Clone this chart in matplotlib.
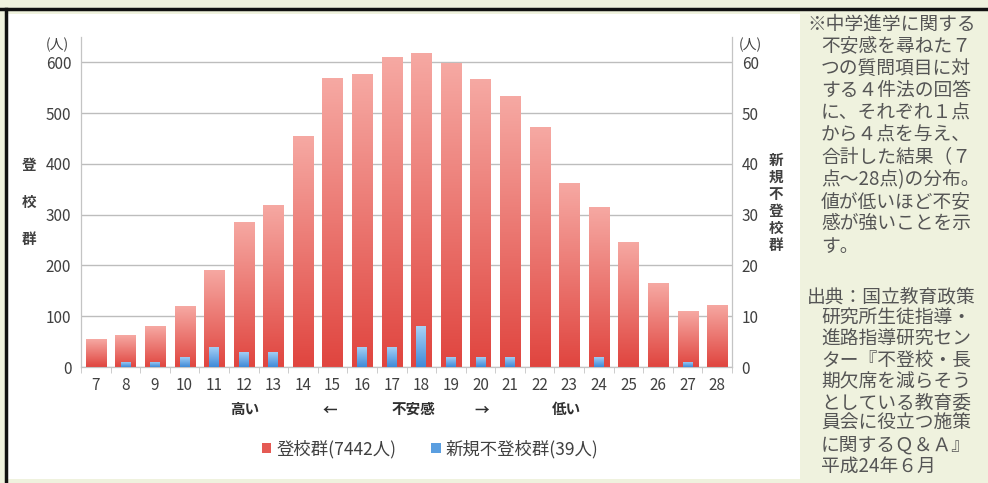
import numpy as np
import matplotlib
matplotlib.use('Agg')
import matplotlib.pyplot as plt
from matplotlib.colors import LinearSegmentedColormap
from matplotlib.patches import Rectangle
from matplotlib.lines import Line2D

plt.rcParams['font.family'] = ['Noto Sans CJK JP', 'DejaVu Sans']

# 合計点 7〜28 点
scores = list(range(7, 29))
# 登校群 (左軸, 人)
touko = [55, 63, 80, 120, 192, 286, 320, 455, 569, 577, 610, 619,
         598, 567, 533, 472, 363, 316, 247, 165, 110, 123]
# 新規不登校群 (右軸, 人)
shinki = [0, 1, 1, 2, 4, 3, 3, 0, 0, 4, 4, 8,
          2, 2, 2, 0, 0, 2, 0, 0, 1, 0]

label_touko = '登校群(7442人)'
label_shinki = '新規不登校群(39人)'

note_lines = ['※中学進学に関する', '不安感を尋ねた７', 'つの質問項目に対',
              'する４件法の回答', 'に、それぞれ１点', 'から４点を与え、',
              '合計した結果（７', '点～28点)の分布。', '値が低いほど不安',
              '感が強いことを示', 'す。']
source_lines = ['出典：国立教育政策', '研究所生徒指導・', '進路指導研究セン',
                'ター『不登校・長', '期欠席を減らそう', 'としている教育委',
                '員会に役立つ施策', 'に関するＱ＆Ａ』', '平成24年６月']

W, H = 988, 483
bg = '#eff2de'
fig = plt.figure(figsize=(W / 100, H / 100), dpi=100, facecolor=bg)

# 白いグラフ領域と黒枠
fig.patches.append(Rectangle((8 / W, 1 - 479 / H), 792 / W, 465 / H,
                             transform=fig.transFigure, facecolor='white',
                             edgecolor='none', zorder=-5))
fig.lines.append(Line2D([0, 1], [1 - 8.5 / H] * 2, transform=fig.transFigure,
                        color='#111111', lw=2.5))
fig.lines.append(Line2D([5.5 / W] * 2, [0, 1 - 8.5 / H], transform=fig.transFigure,
                        color='#111111', lw=2.5))

ax = fig.add_axes([81 / W, 1 - 367 / H, 651 / W, 330 / H])
ax.set_facecolor('none')
ax2 = ax.twinx()
ax2.set_facecolor('none')

x = np.arange(len(scores))
red_cmap = LinearSegmentedColormap.from_list('red', ['#e0453f', '#f6a9a3'])
blue_cmap = LinearSegmentedColormap.from_list('blue', ['#3f8ad8', '#a8d2f6'])
grad = np.linspace(0, 1, 256).reshape(-1, 1)


def gradient_bars(axis, xs, vals, width, cmap):
    bars = axis.bar(xs, vals, width=width, color='none', edgecolor='none', zorder=3)
    for b, v in zip(bars, vals):
        if v <= 0:
            continue
        im = axis.imshow(grad, cmap=cmap, origin='lower', aspect='auto',
                         extent=[b.get_x(), b.get_x() + width, 0, v], zorder=3)
        im.set_clip_path(b)


gradient_bars(ax, x, touko, 0.68, red_cmap)
gradient_bars(ax2, x, shinki, 0.33, blue_cmap)

ax.set_xlim(-0.5, len(scores) - 0.5)
ax.set_ylim(0, 650)
ax2.set_ylim(0, 65)
ax.set_yticks(range(0, 700, 100))
ax2.set_yticks(range(0, 70, 10))

ax.grid(axis='y', color='#bdbdbd', lw=1)
ax.set_axisbelow(True)

for a in (ax, ax2):
    a.spines['top'].set_visible(False)
    for s in ('left', 'right', 'bottom'):
        a.spines[s].set_color('#c4c4c4')
    a.tick_params(axis='y', length=0, labelsize=11, labelcolor='#404040', pad=7)

ax.set_xticks(x)
ax.set_xticklabels(scores)
ax.set_xticks(np.arange(-0.5, len(scores), 1), minor=True)
ax.tick_params(axis='x', which='major', length=0, labelsize=11,
               labelcolor='#404040', pad=7)
ax.tick_params(axis='x', which='minor', length=4, color='#c4c4c4')

# 単位と軸タイトル
fig.text(57 / W, 1 - 45 / H, '(人)', fontsize=10, color='#404040',
         ha='center', va='center')
fig.text(750 / W, 1 - 45 / H, '(人)', fontsize=10, color='#404040',
         ha='center', va='center')
for i, ch in enumerate('登校群'):
    fig.text(29 / W, 1 - (165 + i * 37) / H, ch, fontsize=10.5, color='#404040',
             ha='center', va='center', fontweight='bold')
for i, ch in enumerate('新規不登校群'):
    fig.text(776 / W, 1 - (160 + i * 17) / H, ch, fontsize=10.5, color='#404040',
             ha='center', va='center', fontweight='bold')

# 不安感の向き
for xp, s in [(245, '高い'), (330, '←'), (413, '不安感'), (482, '→'), (566, '低い')]:
    fig.text(xp / W, 1 - 409 / H, s, fontsize=10.5, color='#303030',
             ha='center', va='center', fontweight='bold')

handles = [Rectangle((0, 0), 1, 1, facecolor='#e55a54'),
           Rectangle((0, 0), 1, 1, facecolor='#5a9ee0')]
fig.legend(handles, [label_touko, label_shinki], loc='center',
           bbox_to_anchor=(430 / W, 1 - 449 / H), ncol=2, frameon=False,
           fontsize=12.5, handlelength=0.55, handleheight=0.55, handletextpad=0.3,
           columnspacing=2.0, labelcolor='#404040')

# 注記と出典
for i, s in enumerate(note_lines):
    xp = 807 if i == 0 else 821
    fig.text(xp / W, 1 - (24 + i * 22.2) / H, s, fontsize=13.5, color='#555555',
             ha='left', va='center')
for i, s in enumerate(source_lines):
    xp = 807 if i == 0 else 821
    fig.text(xp / W, 1 - (297 + i * 21.1) / H, s, fontsize=13.5, color='#555555',
             ha='left', va='center')

fig.savefig('out.png', dpi=100, facecolor=bg)
